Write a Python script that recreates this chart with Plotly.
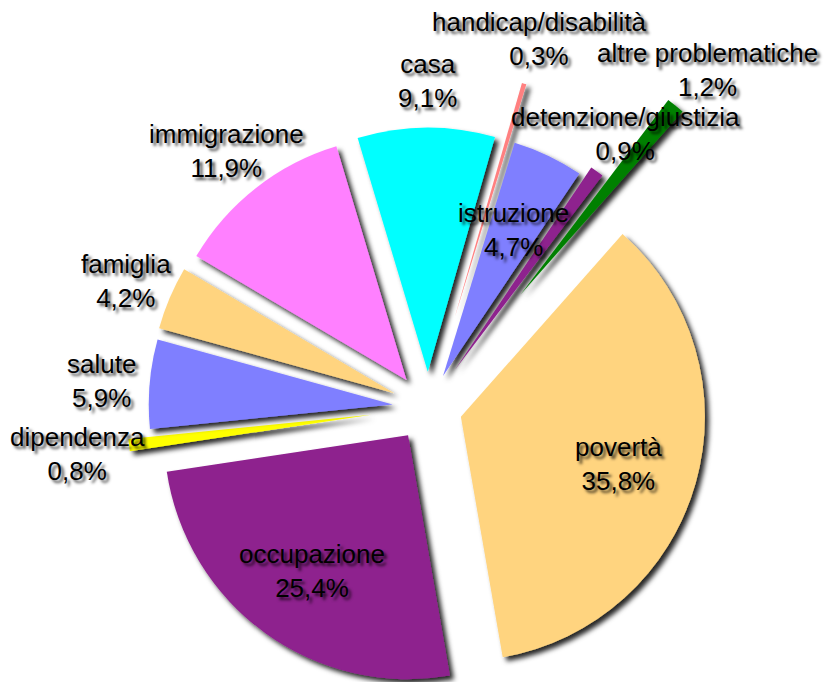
import math
import plotly.graph_objects as go

# Problem areas and their share of cases (%), clockwise from "povertà"
categories = ["povertà", "occupazione", "dipendenza", "salute", "famiglia",
              "immigrazione", "casa", "handicap/disabilità", "istruzione",
              "detenzione/giustizia", "altre problematiche"]
shares = [35.8, 25.4, 0.8, 5.9, 4.2, 11.9, 9.1, 0.3, 4.7, 0.9, 1.2]

# Slice styling
slice_colors = ["#FFD47F", "#8E208E", "#FFFF00", "#7F7FFF", "#FFD47F",
                "#FF80FF", "#00FFFF", "#FF8080", "#7F7FFF", "#8E208E", "#008000"]
slice_pull = [0.14, 0.14, 0.235, 0.145, 0.15, 0.143, 0.147, 0.385, 0.143, 0.19, 0.60]

# Label anchor points (pixels from top-left)
label_xy = [(618, 464), (312, 571), (77, 454), (101, 381), (126, 281), (226, 151),
            (427, 81), (539, 39), (513, 230), (625, 134), (707, 70)]

W, H = 824, 682
CX, CY = 428.0, 407.5   # pie centre in pixels
R = 244.0               # pie radius in pixels
START = 41.5            # first slice edge, degrees clockwise from 12 o'clock

fig = go.Figure()

total = sum(shares)
acc = 0.0
for i, name in enumerate(categories):
    mid = START + (acc + shares[i] / 2) / total * 360
    acc += shares[i]
    a = math.radians(mid)
    off = slice_pull[i] * R
    cx = CX + off * math.sin(a)
    cy = CY - off * math.cos(a)
    dx = [max(0.0, (cx - R) / W), min(1.0, (cx + R) / W)]
    dy = [max(0.0, 1 - (cy + R) / H), min(1.0, 1 - (cy - R) / H)]
    cols = [slice_colors[j] if j == i else "rgba(0,0,0,0)" for j in range(len(categories))]
    fig.add_trace(go.Pie(
        labels=categories, values=shares, sort=False, direction="clockwise",
        rotation=START, marker=dict(colors=cols, line=dict(width=0)),
        textinfo="none", hoverinfo="skip", showlegend=False,
        domain=dict(x=dx, y=dy),
    ))

for name, val, (px, py) in zip(categories, shares, label_xy):
    txt = f"{name}<br>{val:.1f}%".replace(".", ",")
    fig.add_annotation(
        x=px / W, y=1 - py / H, xref="paper", yref="paper",
        text=txt, showarrow=False, xanchor="center", yanchor="middle", align="center",
        font=dict(family="Liberation Sans, Arial, sans-serif", size=26, color="#000000",
                  shadow="3px 3px 3px rgba(0,0,0,0.7)"),
    )

fig.update_layout(
    width=W, height=H, margin=dict(l=0, r=0, t=0, b=0),
    paper_bgcolor="white", plot_bgcolor="white", showlegend=False,
)

shadow_js = """
var gd = document.getElementById('{plot_id}');
var svg = gd.querySelector('svg.main-svg');
var ns = 'http://www.w3.org/2000/svg';
var defs = svg.querySelector('defs');
if (!defs) { defs = document.createElementNS(ns, 'defs'); svg.insertBefore(defs, svg.firstChild); }
var f = document.createElementNS(ns, 'filter');
f.setAttribute('id', 'sliceShadow');
f.setAttribute('x', '-0.5'); f.setAttribute('y', '-0.5');
f.setAttribute('width', '2'); f.setAttribute('height', '2');
var ds = document.createElementNS(ns, 'feDropShadow');
ds.setAttribute('dx', '4'); ds.setAttribute('dy', '4');
ds.setAttribute('stdDeviation', '2.5');
ds.setAttribute('flood-color', '#000000'); ds.setAttribute('flood-opacity', '0.85');
f.appendChild(ds); defs.appendChild(f);
gd.querySelectorAll('g.slice path.surface').forEach(function (p) {
  p.setAttribute('filter', 'url(#sliceShadow)');
});
"""

fig.write_html("out.html", post_script=shadow_js)
